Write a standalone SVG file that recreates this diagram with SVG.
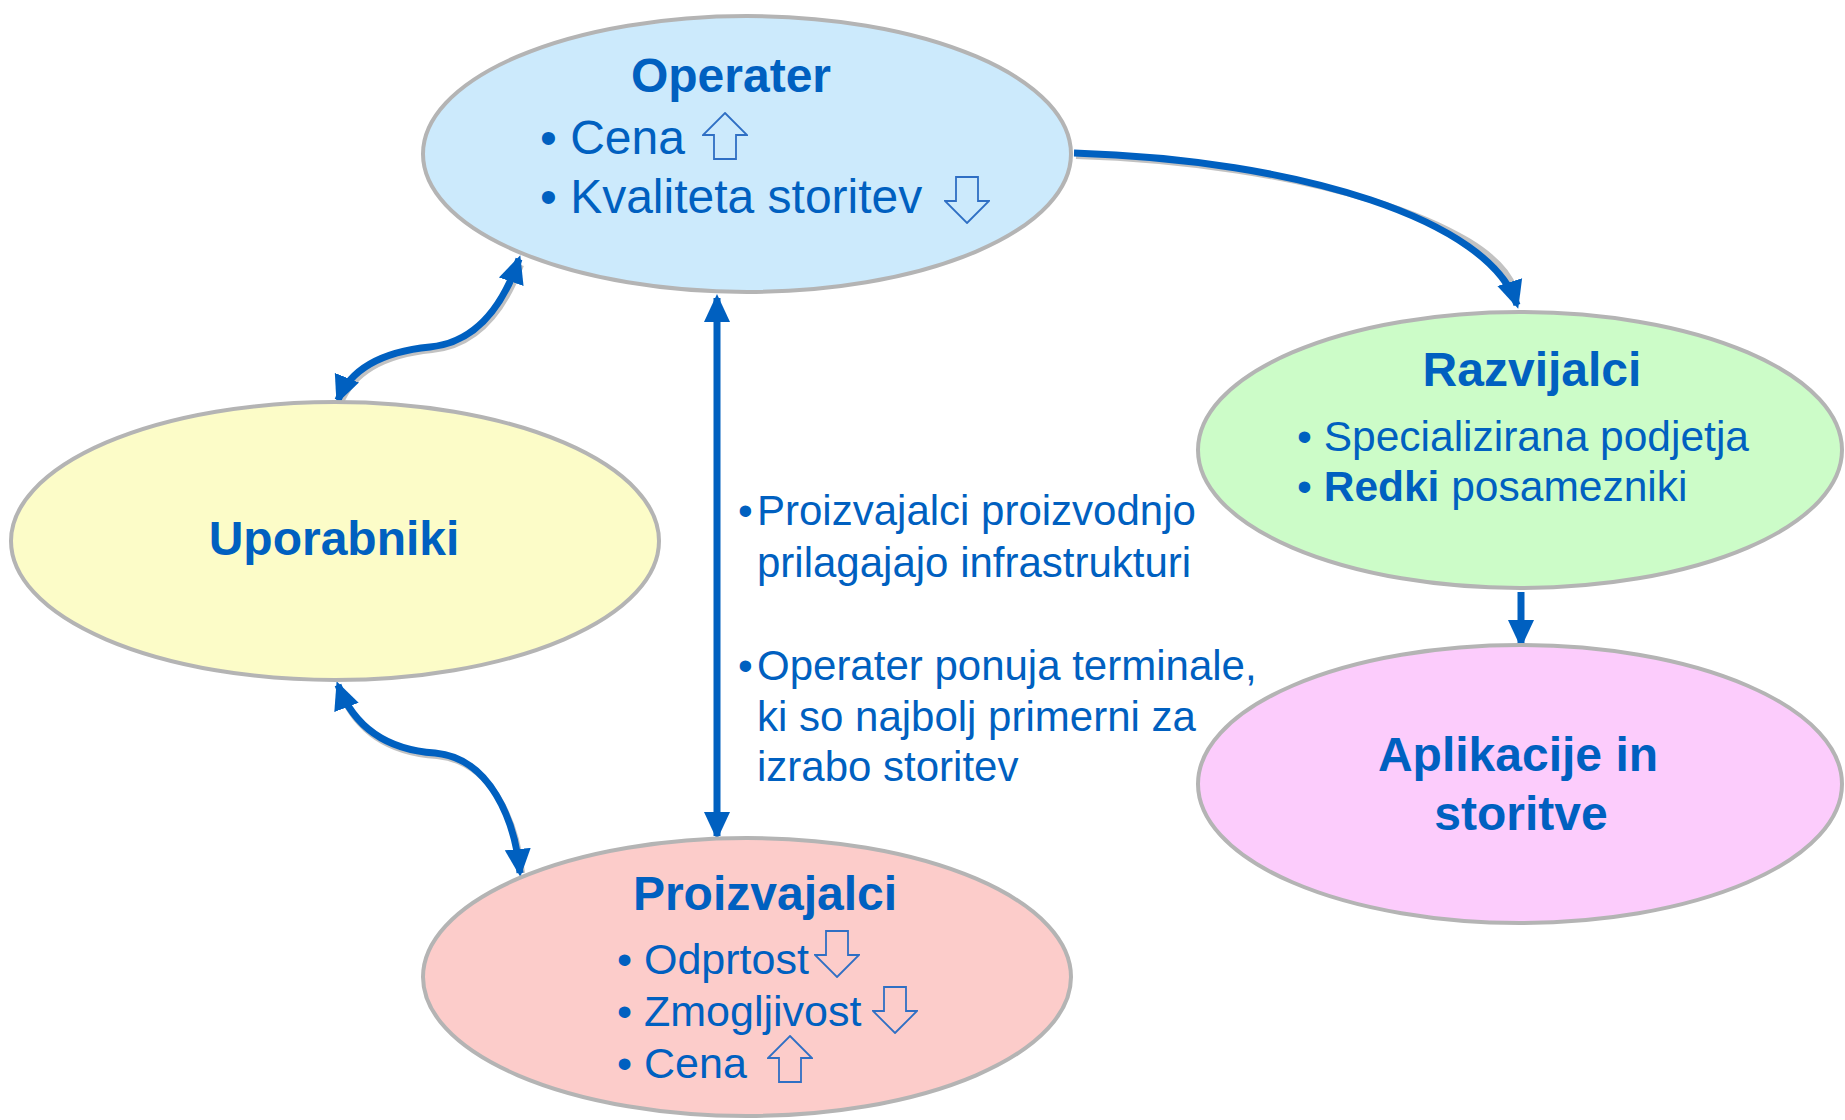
<svg xmlns="http://www.w3.org/2000/svg" width="1845" height="1120" viewBox="0 0 1845 1120">
<style>
.node{stroke:#b4b4b4;stroke-width:4}
.t{font-family:"Liberation Sans",Arial,sans-serif;fill:#0060c0}
.title{font-size:48px;font-weight:bold;text-anchor:middle}
.conn{fill:none;stroke:#0060c0;stroke-width:7}
.shadow{fill:none;stroke:#9a9a9a;stroke-width:6;opacity:0.6}
.blk{fill:none;stroke:#2f6fc4;stroke-width:1.8;stroke-linejoin:miter}
</style>
<defs>
<marker id="ah" viewBox="0 0 28 28" refX="24" refY="14" markerWidth="28" markerHeight="28" markerUnits="userSpaceOnUse" orient="auto-start-reverse">
<path d="M0,1 L28,14 L0,27 Z" fill="#0060c0"/>
</marker>
<symbol id="up" viewBox="0 0 46 48">
<polygon class="blk" points="23,1 45,23 34,23 34,47 12,47 12,23 1,23"/>
</symbol>
<symbol id="down" viewBox="0 0 46 48">
<polygon class="blk" points="23,47 45,25 34,25 34,1 12,1 12,25 1,25"/>
</symbol>
</defs>
<rect width="1845" height="1120" fill="#ffffff"/>

<g id="connectors">
<path class="shadow" d="M1074,153 C1300,160 1490,220 1512,285" transform="translate(2,3)"/>
<path class="conn" d="M1074,153 C1300,160 1490,220 1517,305" marker-end="url(#ah)"/>
<path class="shadow" d="M338,402 C350,370 380,352 430,347 C480,342 505,300 519,262" transform="translate(2,3)"/>
<path class="conn" d="M338,400 C350,370 380,352 430,347 C480,342 505,300 519,259" marker-start="url(#ah)" marker-end="url(#ah)"/>
<path class="shadow" d="M338,688 C355,730 390,750 435,753 C490,758 515,820 520,870" transform="translate(2,3)"/>
<path class="conn" d="M338,685 C355,730 390,750 435,753 C490,758 515,820 520,873" marker-start="url(#ah)" marker-end="url(#ah)"/>
<path class="conn" d="M717,298 L717,836" marker-start="url(#ah)" marker-end="url(#ah)"/>
<path class="conn" d="M1521,592 L1521,644" marker-end="url(#ah)"/>
</g>

<g id="operater">
<ellipse class="node" cx="747" cy="154" rx="324" ry="138" fill="#cceafc"/>
<text class="t title" x="731" y="92">Operater</text>
<text class="t" x="540" y="154" font-size="48">• Cena</text>
<text class="t" x="540" y="213" font-size="48">• Kvaliteta storitev</text>
<use href="#up" x="702" y="112" width="46" height="48"/>
<use href="#down" x="944" y="176" width="46" height="48"/>
</g>

<g id="razvijalci">
<ellipse class="node" cx="1520" cy="450" rx="322" ry="138" fill="#ccfcc8"/>
<text class="t title" x="1532" y="386">Razvijalci</text>
<text class="t" x="1297" y="451" font-size="42.5">• Specializirana podjetja</text>
<text class="t" x="1297" y="501" font-size="42.5">• <tspan font-weight="bold">Redki</tspan> posamezniki</text>
</g>

<g id="uporabniki">
<ellipse class="node" cx="335" cy="541" rx="324" ry="139" fill="#fcfcc8"/>
<text class="t title" x="334" y="555">Uporabniki</text>
</g>

<g id="aplikacije">
<ellipse class="node" cx="1520" cy="784" rx="322" ry="139" fill="#fcccfc"/>
<text class="t title" x="1518" y="771">Aplikacije in</text>
<text class="t title" x="1521" y="830">storitve</text>
</g>

<g id="proizvajalci">
<ellipse class="node" cx="747" cy="977" rx="324" ry="139" fill="#fcccca"/>
<text class="t title" x="765" y="910">Proizvajalci</text>
<text class="t" x="617" y="974" font-size="43">• Odprtost</text>
<text class="t" x="617" y="1026" font-size="43">• Zmogljivost</text>
<text class="t" x="617" y="1078" font-size="43">• Cena</text>
<use href="#down" x="814" y="930" width="46" height="48"/>
<use href="#down" x="872" y="986" width="46" height="48"/>
<use href="#up" x="767" y="1035" width="46" height="48"/>
</g>

<g id="label">
<text class="t" font-size="42" y="525"><tspan x="738">•</tspan><tspan x="757">Proizvajalci  proizvodnjo</tspan></text>
<text class="t" font-size="42" x="757" y="577">prilagajajo infrastrukturi</text>
<text class="t" font-size="42" y="680"><tspan x="738">•</tspan><tspan x="757">Operater ponuja terminale,</tspan></text>
<text class="t" font-size="42" x="757" y="731">ki so najbolj primerni za</text>
<text class="t" font-size="42" x="757" y="781">izrabo storitev</text>
</g>
</svg>
